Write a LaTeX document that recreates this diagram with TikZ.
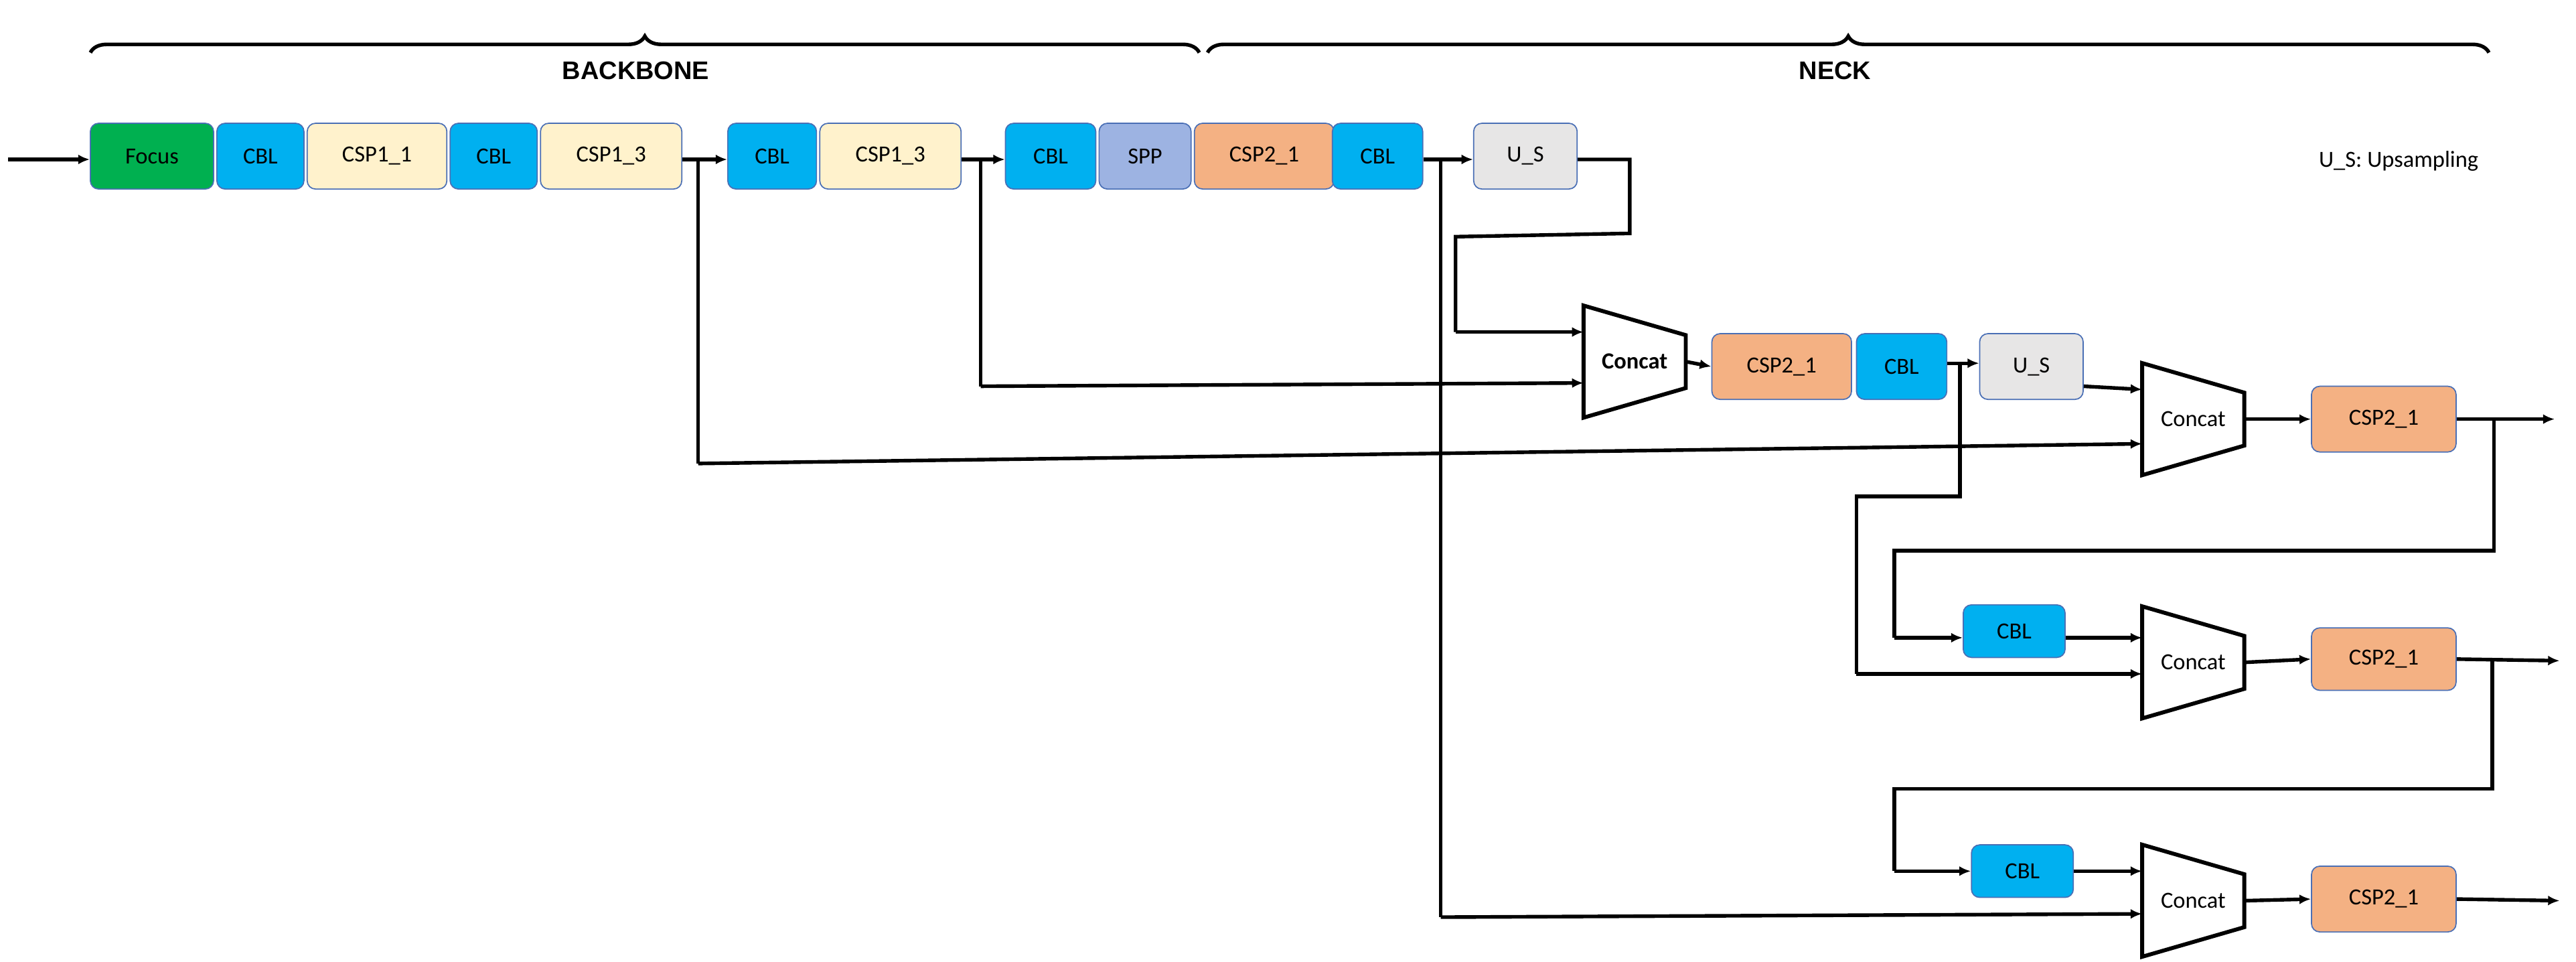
\documentclass[tikz,border=0pt]{standalone}
\usepackage{fontspec}
\setmainfont{Carlito}
\newfontfamily\headfont{Liberation Sans}
\usetikzlibrary{positioning,arrows.meta,decorations.pathreplacing,calc}
\definecolor{mygreen}{HTML}{00B050}
\definecolor{myblue}{HTML}{00B0F0}
\definecolor{mycream}{HTML}{FFF2CC}
\definecolor{myspp}{HTML}{9DB3E2}
\definecolor{myorange}{HTML}{F4B183}
\definecolor{mygray}{HTML}{E7E6E6}
\definecolor{myline}{HTML}{4A6FB5}

\begin{document}
\begin{tikzpicture}[x=0.5mm,y=-0.5mm,
	line width=1.1mm,
	every node/.style={font=\fontsize{20}{24}\selectfont},
	box/.style={draw=myline,line width=0.35mm,rounded corners=2.5mm,minimum height=20mm,inner sep=0pt},
	focusnode/.style={box,fill=mygreen},
	cblnode/.style={box,fill=myblue},
	csponenode/.style={box,fill=mycream},
	sppnode/.style={box,fill=myspp},
	csptwonode/.style={box,fill=myorange},
	usnode/.style={box,fill=mygray},
	concatnode/.style={minimum width=30mm,minimum height=33mm,inner sep=0pt},
	arr/.style={-{Latex[length=3.5mm,width=3mm]}},
	brace/.style={decorate,decoration={brace,amplitude=5mm},line width=1.1mm},
	]
	\useasboundingbox (0,0) rectangle (1568,585);
	
	% braces
	\draw[brace] (55,32) -- (730,32);
	\draw[brace] (735,32) -- (1515,32);
	\node[font=\headfont\bfseries\fontsize{22}{26}\selectfont] (backbone) at (387,43) {BACKBONE};
	\node[font=\headfont\bfseries\fontsize{22}{26}\selectfont] (neck) at (1117,43) {NECK};
	
	% backbone row
	\coordinate (in) at (5,97);
	\node[focusnode,minimum width=37.5mm] (focus) at (92.5,95) {Focus};
	\node[cblnode,minimum width=26.5mm] (b1) at (158.5,95) {CBL};
	\node[csponenode,minimum width=42.5mm] (b2) at (229.5,95) {CSP1\_1};
	\node[cblnode,minimum width=26.5mm] (b3) at (300.5,95) {CBL};
	\node[csponenode,minimum width=43mm] (b4) at (372,95) {CSP1\_3};
	\node[cblnode,minimum width=27mm] (b5) at (470,95) {CBL};
	\node[csponenode,minimum width=43mm] (b6) at (542,95) {CSP1\_3};
	\node[cblnode,minimum width=27.5mm] (b7) at (639.5,95) {CBL};
	\node[sppnode,minimum width=28mm] (b8) at (697,95) {SPP};
	\node[csptwonode,minimum width=42.5mm] (n1) at (769.5,95) {CSP2\_1};
	\node[cblnode,minimum width=27.5mm] (n2) at (838.5,95) {CBL};
	\node[usnode,minimum width=31.5mm] (us1) at (928.5,95) {U\_S};
	\node[anchor=east] (legend) at (1512,98) {U\_S: Upsampling};
	
	% neck rows
	\node[concatnode] (c1) at (995,220) {\bfseries Concat};
	\node[csptwonode,minimum width=42.5mm] (n3) at (1084.5,223) {CSP2\_1};
	\node[cblnode,minimum width=27.5mm] (n4) at (1157.5,223) {CBL};
	\node[usnode,minimum width=31.5mm] (us2) at (1236.5,223) {U\_S};
	
	\node[concatnode] (c2) at (1335,255) {Concat};
	\node[csptwonode,minimum width=44mm] (o1) at (1451,255) {CSP2\_1};
	
	\node[cblnode,minimum width=31mm,minimum height=16mm] (n5) at (1226,384) {CBL};
	\node[concatnode] (c3) at (1335,403) {Concat};
	\node[csptwonode,minimum width=44mm,minimum height=19mm] (o2) at (1451,401) {CSP2\_1};
	
	\node[cblnode,minimum width=31mm,minimum height=16mm] (n6) at (1231,530) {CBL};
	\node[concatnode] (c4) at (1335,548) {Concat};
	\node[csptwonode,minimum width=44mm,minimum height=20mm] (o3) at (1451,547) {CSP2\_1};
	
	% concat outlines
	\foreach \c in {c1,c2,c3,c4}
	\draw[line width=1.2mm] (\c.north west) -- ($(\c.north east)+(0,18)$) -- ($(\c.south east)+(0,-18)$) -- (\c.south west) -- cycle;
	
	% main path
	\draw[arr] (in) -- (focus.west |- in);
	\draw[arr] (b4.east |- 0,97) -- (b5.west |- 0,97);
	\draw[arr] (b6.east |- 0,97) -- (b7.west |- 0,97);
	\draw[arr] (n2.east |- 0,97) -- (us1.west |- 0,97);
	\draw (us1.east |- 0,97) -- (992,97) -- (992,142) -- (886,144) -- (886,202);
	\draw[arr] (886,202) -- (c1.west |- 0,202);
	
	% skip connections
	\draw (597,97) -- (597,235);
	\draw[arr] (597,235) -- (c1.west |- 0,233);
	\draw (425,97) -- (425,282);
	\draw[arr] (425,282) -- (c2.west |- 0,270);
	\draw (877,97) -- (877,558);
	\draw[arr] (877,558) -- (c4.west |- 0,556);
	
	% neck path
	\draw[arr] (c1.east) -- (n3.west);
	\draw[arr] (n4.east |- 0,221) -- (us2.west |- 0,221);
	\draw[arr] (us2.east |- 0,235) -- (c2.west |- 0,237);
	\draw (1193,221) -- (1193,302) -- (1130,302) -- (1130,410);
	\draw[arr] (1130,410) -- (c3.west |- 0,410);
	\draw[arr] (c2.east) -- (o1.west);
	\draw[arr] (o1.east) -- (1555,255);
	\draw (1518,255) -- (1518,335) -- (1153,335) -- (1153,388);
	\draw[arr] (1153,388) -- (n5.west |- 0,388);
	\draw[arr] (n5.east |- 0,388) -- (c3.west |- 0,388);
	\draw[arr] (c3.east) -- (o2.west);
	\draw[arr] (o2.east) -- (1558,402);
	\draw (1517,402) -- (1517,480) -- (1153,480) -- (1153,530);
	\draw[arr] (1153,530) -- (n6.west |- 0,530);
	\draw[arr] (n6.east |- 0,530) -- (c4.west |- 0,530);
	\draw[arr] (c4.east) -- (o3.west);
	\draw[arr] (o3.east) -- (1558,548);
\end{tikzpicture}
\end{document}
